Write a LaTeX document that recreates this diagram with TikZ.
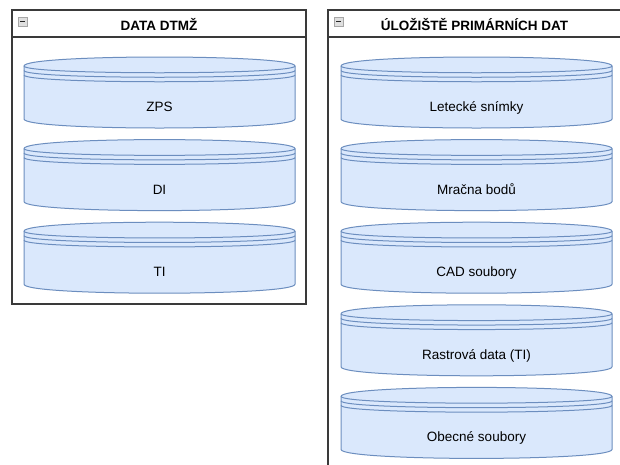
\documentclass[tikz,border=0pt]{standalone}
\usepackage{fontspec}
\setmainfont{Liberation Sans}
\usetikzlibrary{positioning}

\definecolor{storefill}{HTML}{DAE8FC}
\definecolor{storeline}{HTML}{6C8EBF}
\definecolor{boxline}{HTML}{3A3A3A}

% datastore: x, top y, name, text
\newcommand{\datastore}[4]{%
  \path[store] (#1,#2+9) .. controls (#1,#2-3) and (#1+271,#2-3) .. (#1+271,#2+9)
     -- (#1+271,#2+62) .. controls (#1+271,#2+74) and (#1,#2+74) .. (#1,#2+62) -- cycle;
  \foreach \d in {9,13.5,18}
     \draw[storeline, line width=1pt] (#1,#2+\d) .. controls (#1,#2+\d+9) and (#1+271,#2+\d+9) .. (#1+271,#2+\d);
  \node[storetext] (#3) at (#1+135.5,#2+54.5) {#4};
}

\begin{document}
\begin{tikzpicture}[x=1pt,y=-1pt]
\tikzstyle{store}=[draw=storeline, fill=storefill, line width=1pt]
\tikzstyle{storetext}=[anchor=base, inner sep=0pt, font=\fontsize{13.5}{16}\selectfont]
\tikzstyle{container}=[draw=boxline, line width=1.4pt, fill=white]
\tikzstyle{headtext}=[anchor=base, inner sep=0pt, font=\fontsize{13.5}{16}\selectfont\bfseries]
\tikzstyle{toggle}=[draw=gray!70, fill=gray!25, line width=0.6pt]
\useasboundingbox (0,0) rectangle (620,464);
\clip (0,0) rectangle (620,464);
\fill[white] (0,0) rectangle (620,464);
% containers
\draw[container] (12,10) rectangle (306,304);
\draw[boxline, line width=1.4pt] (12,37) -- (306,37);
\draw[container] (328,10) rectangle (621,470);
\draw[boxline, line width=1.4pt] (328,37) -- (621,37);
\node[headtext] (dtmz) at (159,30) {DATA DTMŽ};
\node[headtext] (primary) at (474.5,30) {ÚLOŽIŠTĚ PRIMÁRNÍCH DAT};
\foreach \x in {18,334}
   {
    \draw[toggle] (\x,17) rectangle (\x+9,26);
    \draw[gray!30!black, line width=1.2pt] (\x+2,21.5) -- (\x+7,21.5);
   }
% stores
\foreach \y/\name/\txt in {57/zps/ZPS,139.6/di/DI,222.2/ti/TI}
   {
    \datastore{24}{\y}{\name}{\txt}
   }
\foreach \y/\name/\txt in {57/aerial/Letecké snímky,139.6/cloud/Mračna bodů,222.2/cad/CAD soubory,304.8/raster/Rastrová data (TI),387.4/general/Obecné soubory}
   {
    \datastore{341}{\y}{\name}{\txt}
   }
\end{tikzpicture}
\end{document}
